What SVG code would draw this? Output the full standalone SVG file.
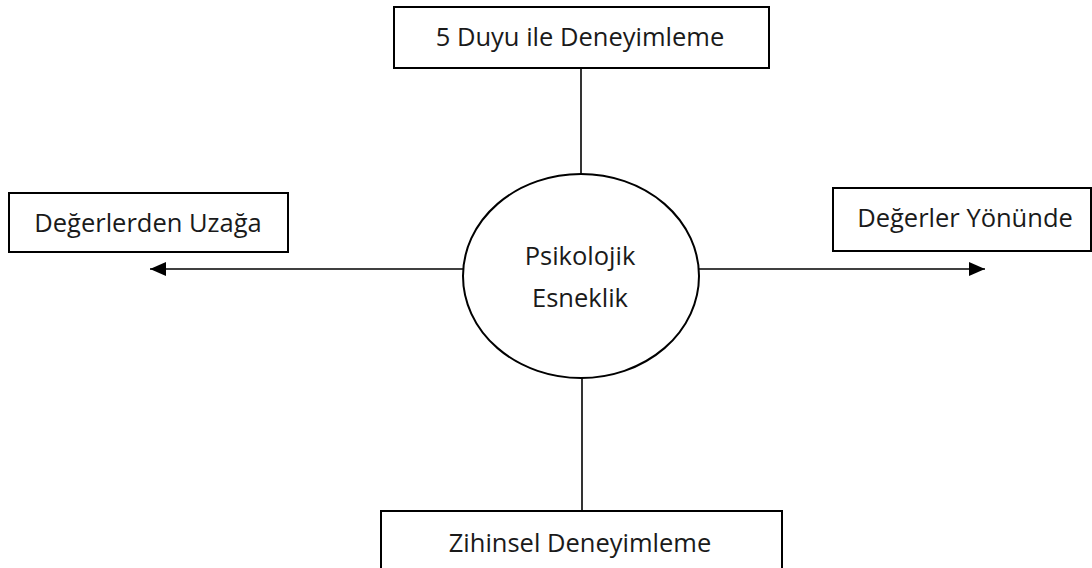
<svg xmlns="http://www.w3.org/2000/svg" width="1092" height="568" viewBox="0 0 1092 568">
<style>
.box{fill:#fff;stroke:#000;stroke-width:2}
.ln{stroke:#000;stroke-width:1.6;fill:none}
.t{font-family:"Open Sans","Liberation Sans",sans-serif;font-size:25.5px;fill:#1a1a1a;text-anchor:middle}
</style>
<defs>
<marker id="ah" viewBox="0 0 16 14" refX="16" refY="7" markerWidth="16" markerHeight="14" markerUnits="userSpaceOnUse" orient="auto">
<path d="M0,0 L16,7 L0,14 Z" fill="#000"/>
</marker>
</defs>
<rect width="1092" height="568" fill="#fff"/>
<g id="connectors">
<line class="ln" x1="581" y1="68" x2="581" y2="174"/>
<line class="ln" x1="582" y1="378" x2="582" y2="511"/>
<line class="ln" x1="463" y1="269" x2="150" y2="269" marker-end="url(#ah)"/>
<line class="ln" x1="699" y1="269" x2="985" y2="269" marker-end="url(#ah)"/>
</g>
<g id="node-top">
<rect class="box" x="394" y="7" width="375" height="61"/>
<text class="t" x="580" y="46">5 Duyu ile Deneyimleme</text>
</g>
<g id="node-left">
<rect class="box" x="9" y="193" width="279" height="59"/>
<text class="t" x="148" y="232">Değerlerden Uzağa</text>
</g>
<g id="node-right">
<rect class="box" x="833" y="188" width="258" height="63"/>
<text class="t" x="965" y="227">Değerler Yönünde</text>
</g>
<g id="node-center">
<ellipse class="box" cx="581" cy="276" rx="118" ry="102"/>
<text class="t" x="580" y="265">Psikolojik</text>
<text class="t" x="580" y="307">Esneklik</text>
</g>
<g id="node-bottom">
<rect class="box" x="381" y="511" width="401" height="70"/>
<text class="t" x="580" y="552">Zihinsel Deneyimleme</text>
</g>
</svg>
